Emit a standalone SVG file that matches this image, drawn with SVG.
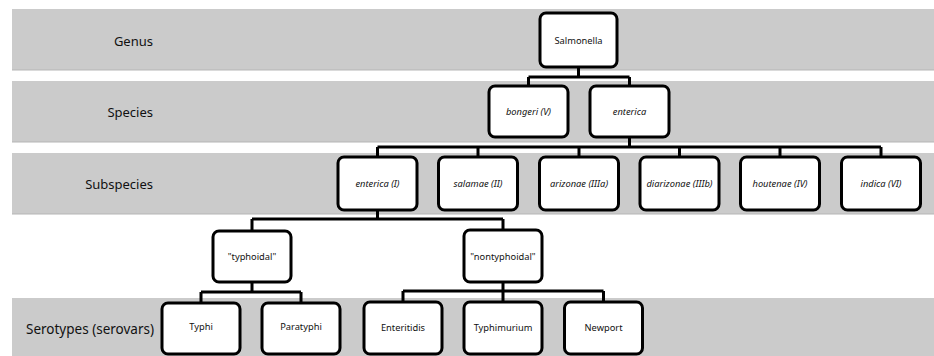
<svg xmlns="http://www.w3.org/2000/svg" width="934" height="356" viewBox="0 0 934 356">
<style>
.band{fill:#cbcbcb}
.bline{stroke:#b5b5b5;stroke-width:1}
.lbl{font-family:"Noto Sans","Open Sans",sans-serif;font-size:13px;fill:#111;text-anchor:end;dominant-baseline:central}
.box{fill:#fff;stroke:#000;stroke-width:3}
.t{font-family:"Noto Sans","Open Sans",sans-serif;font-size:9.3px;fill:#111;text-anchor:middle;dominant-baseline:central}
.i{font-style:italic}
.c{fill:none;stroke:#000;stroke-width:3;stroke-linejoin:miter}
</style>
<rect width="934" height="356" fill="#fff"/>
<g id="bands">
<rect class="band" x="12" y="9" width="922" height="61"/>
<line class="bline" x1="12" y1="70" x2="934" y2="70"/>
<rect class="band" x="12" y="81" width="922" height="61"/>
<line class="bline" x1="12" y1="142" x2="934" y2="142"/>
<rect class="band" x="12" y="153" width="922" height="61"/>
<line class="bline" x1="12" y1="214" x2="934" y2="214"/>
<rect class="band" x="12" y="298" width="922" height="58"/>
<text class="lbl" x="153" y="41">Genus</text>
<text class="lbl" x="153" y="112">Species</text>
<text class="lbl" x="153" y="184">Subspecies</text>
<text class="lbl" x="154" y="329" style="font-size:13.5px">Serotypes (serovars)</text>
</g>
<g id="connectors">
<path class="c" d="M578.5 67V77M528.5 77H629.5M528.5 77V86M629.5 77V86"/>
<path class="c" d="M629.5 137V147M377.5 147H881M377.5 147V157M478 147V157M579 147V157M679.5 147V157M780 147V157M881 147V157"/>
<path class="c" d="M377.5 210V219M252 219H503M252 219V231M503 219V230"/>
<path class="c" d="M252 282V292M201 292H301M201 292V303M301 292V303"/>
<path class="c" d="M503 282V291M403 291H603.5M403 291V302M503 291V302M603.5 291V302"/>
</g>
<g id="n-salmonella"><rect class="box" x="540" y="13" width="77" height="54" rx="6"/><text class="t" x="578.5" y="40">Salmonella</text></g>
<g id="n-bongeri"><rect class="box" x="489" y="86" width="79" height="51" rx="6"/><text class="t i" x="528.5" y="111">bongeri (V)</text></g>
<g id="n-enterica"><rect class="box" x="590" y="86" width="79" height="51" rx="6"/><text class="t i" x="629.5" y="111">enterica</text></g>
<g id="n-enterica-I"><rect class="box" x="338" y="157" width="79" height="53" rx="6"/><text class="t i" x="377.5" y="183">enterica  (I)</text></g>
<g id="n-salamae"><rect class="box" x="438.5" y="157" width="79" height="53" rx="6"/><text class="t i" x="478" y="183">salamae (II)</text></g>
<g id="n-arizonae"><rect class="box" x="539.5" y="157" width="79" height="53" rx="6"/><text class="t i" x="579" y="183">arizonae (IIIa)</text></g>
<g id="n-diarizonae"><rect class="box" x="640" y="157" width="79" height="53" rx="6"/><text class="t i" x="679.5" y="183">diarizonae (IIIb)</text></g>
<g id="n-houtenae"><rect class="box" x="740.5" y="157" width="79" height="53" rx="6"/><text class="t i" x="780" y="183">houtenae (IV)</text></g>
<g id="n-indica"><rect class="box" x="841.5" y="157" width="79" height="53" rx="6"/><text class="t i" x="881" y="183">indica (VI)</text></g>
<g id="n-typhoidal"><rect class="box" x="213" y="231" width="78" height="51" rx="6"/><text class="t" x="252" y="256">"typhoidal"</text></g>
<g id="n-nontyphoidal"><rect class="box" x="464" y="230" width="78" height="52" rx="6"/><text class="t" x="503" y="256">"nontyphoidal"</text></g>
<g id="n-typhi"><rect class="box" x="162" y="303" width="78" height="51" rx="6"/><text class="t" x="201" y="326">Typhi</text></g>
<g id="n-paratyphi"><rect class="box" x="262" y="303" width="78" height="51" rx="6"/><text class="t" x="301" y="326">Paratyphi</text></g>
<g id="n-enteritidis"><rect class="box" x="364" y="302" width="78" height="52" rx="6"/><text class="t" x="403" y="327">Enteritidis</text></g>
<g id="n-typhimurium"><rect class="box" x="464" y="302" width="78" height="52" rx="6"/><text class="t" x="503" y="327">Typhimurium</text></g>
<g id="n-newport"><rect class="box" x="564.5" y="302" width="78" height="52" rx="6"/><text class="t" x="603.5" y="327">Newport</text></g>
</svg>
